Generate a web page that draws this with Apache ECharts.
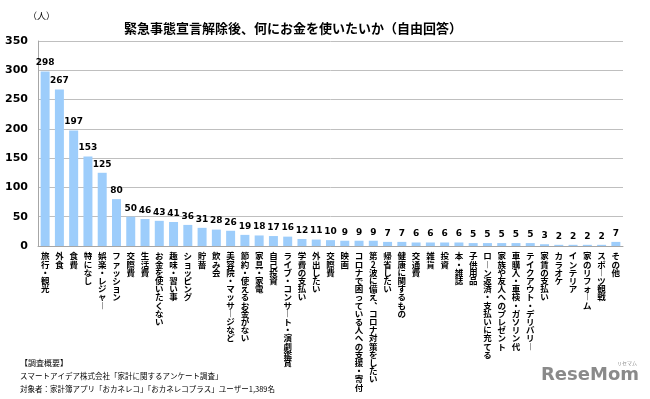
<!DOCTYPE html>
<html><head><meta charset="utf-8">
<script src="https://cdn.jsdelivr.net/npm/echarts@6/dist/echarts.min.js"></script>
<style>html,body{margin:0;padding:0;background:#fff}#c{width:650px;height:399px}</style>
</head><body><div id="c"></div>
<script>
const categories = ['旅行・観光','外食','食費','特になし','娯楽・レジャー','ファッション','交際費','生活費','お金を使いたくない','趣味・習い事','ショッピング','貯蓄','飲み会','美容院・マッサージなど','節約・使えるお金がない','家具・家電','自己投資','ライブ・コンサート・演劇鑑賞','学費の支払い','外出したい','交際費','映画','コロナで困っている人への支援・寄付','第2波に備え、コロナ対策をしたい','帰省したい','健康に関するもの','交通費','雑貨','投資','本・雑誌','子供用品','ローン返済・支払いに充てる','家族や友人へのプレゼント','車購入・車検・ガソリン代','テイクアウト・デリバリー','家賃の支払い','カラオケ','インテリア','家のリフォーム','スポーツ観戦','その他'];
const values = [298,267,197,153,125,80,50,46,43,41,36,31,28,26,19,18,17,16,12,11,10,9,9,9,7,7,6,6,6,6,5,5,5,5,5,3,2,2,2,2,7];
const yMin = 0, yMax = 350, yStep = 50;
const titleText = '緊急事態宣言解除後、何にお金を使いたいか（自由回答）';
const unitText = '（人）';
const noteLines = ['【調査概要】','スマートアイデア株式会社「家計に関するアンケート調査」','対象者：家計簿アプリ「おカネレコ」「おカネレコプラス」ユーザー1,389名'];

const vmap = {'ー':'︱','、':'︑'};
function vertical(s){ return Array.from(s).map(ch => vmap[ch] || ch).join('\n'); }

const chart = echarts.init(document.getElementById('c'));
chart.setOption({
  animation:false,
  backgroundColor:'#fff',
  title:{ text:titleText, left:288, top:17, textAlign:'center',
    textStyle:{ fontFamily:'Noto Sans CJK JP', fontSize:13, fontWeight:'bold', color:'#000' } },
  grid:{ left:38, right:27, top:41, bottom:153 },
  xAxis:{ type:'category', data:categories,
    axisLine:{ lineStyle:{ color:'#a6a6a6', width:1 } },
    axisTick:{ show:false },
    axisLabel:{ interval:0, margin:6, formatter:v=>vertical(v),
      fontFamily:'Noto Sans CJK JP', fontWeight:'bold', fontSize:8.5, lineHeight:8.2, color:'#000', verticalAlign:'top' } },
  yAxis:{ type:'value', min:yMin, max:yMax, interval:yStep,
    axisLine:{ show:true, lineStyle:{ color:'#a6a6a6' } },
    axisTick:{ show:false },
    splitLine:{ lineStyle:{ color:'#bfbfbf', width:1 } },
    axisLabel:{ margin:10, fontFamily:'DejaVu Sans', fontWeight:'bold', fontSize:11, color:'#000' } },
  series:[{ type:'bar', data:values, barCategoryGap:'37%',
    itemStyle:{ color:'#9dcdfb' },
    label:{ show:true, position:'top', distance:4, fontFamily:'DejaVu Sans', fontWeight:'bold', fontSize:9, color:'#000' } }],
  graphic:[
    { type:'text', left:28, top:11, style:{ text:unitText, fontFamily:'Noto Sans CJK JP', fontSize:9, fill:'#000' } },
    { type:'text', left:20, top:359, style:{ text:noteLines[0], fontFamily:'Noto Sans CJK JP', fontSize:8, fill:'#000' } },
    { type:'text', left:20, top:372, style:{ text:noteLines[1], fontFamily:'Noto Sans CJK JP', fontSize:7.5, fill:'#000' } },
    { type:'text', left:20, top:385, style:{ text:noteLines[2], fontFamily:'Noto Sans CJK JP', fontSize:7.5, fill:'#000' } },
    { type:'text', left:541, top:366, style:{ text:'ReseMom', fontFamily:'DejaVu Sans', fontWeight:'bold', fontSize:18, fill:'#8a8a8a' } },
    { type:'text', left:617, top:361, style:{ text:'リセマム', fontFamily:'Noto Sans CJK JP', fontSize:5, fill:'#8a8a8a' } }
  ]
});
</script></body></html>
